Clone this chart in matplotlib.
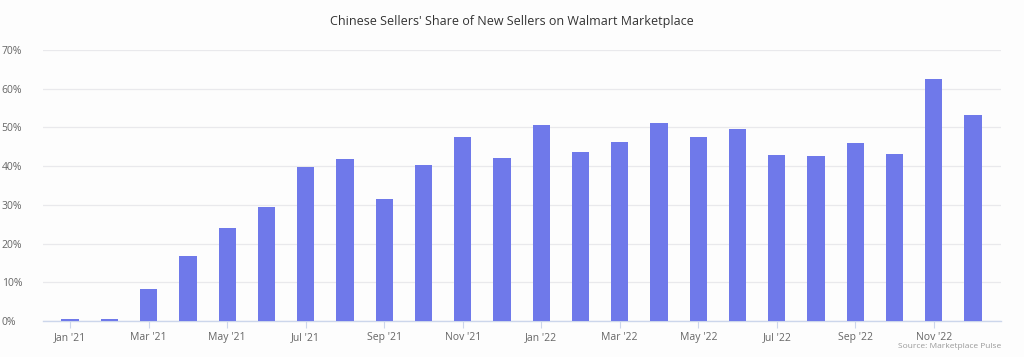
import matplotlib
matplotlib.use("Agg")
import matplotlib.pyplot as plt
from matplotlib.ticker import FuncFormatter

months = ["Jan '21", "Feb '21", "Mar '21", "Apr '21", "May '21", "Jun '21",
          "Jul '21", "Aug '21", "Sep '21", "Oct '21", "Nov '21", "Dec '21",
          "Jan '22", "Feb '22", "Mar '22", "Apr '22", "May '22", "Jun '22",
          "Jul '22", "Aug '22", "Sep '22", "Oct '22", "Nov '22", "Dec '22"]
share = [0.5, 0.5, 8.2, 16.8, 24.1, 29.5,
         39.9, 41.9, 31.4, 40.3, 47.4, 42.1,
         50.5, 43.6, 46.3, 51.1, 47.6, 49.6,
         43.0, 42.5, 46.0, 43.2, 62.4, 53.1]
y_ticks = [0, 10, 20, 30, 40, 50, 60, 70]

BAR = "#6f79ea"
BG = "#fdfdfd"
GRID = "#e9e9ec"
TICK = "#666666"

plt.rcParams["font.family"] = ["Open Sans", "DejaVu Sans"]

fig = plt.figure(figsize=(10.24, 3.57), dpi=100, facecolor=BG)
ax = fig.add_axes([0.042, 0.1008, 0.9355, 0.7592])
ax.set_facecolor(BG)

x = list(range(len(months)))
ax.bar(x, share, width=0.44, color=BAR, zorder=3)

ax.set_xlim(-0.69, len(months) - 0.29)
ax.set_ylim(0, 70)
ax.set_yticks(y_ticks)
ax.yaxis.set_major_formatter(FuncFormatter(lambda v, _: f"{v:.0f}%"))
ax.set_xticks(x[::2])
ax.set_xticklabels(months[::2])

ax.grid(axis="y", color=GRID, lw=0.9, zorder=0)
for side in ("top", "right", "left"):
    ax.spines[side].set_visible(False)
ax.spines["bottom"].set_color("#ccd6eb")
ax.spines["bottom"].set_linewidth(1)
ax.tick_params(axis="y", length=0, colors=TICK, labelsize=7.5, pad=6)
ax.tick_params(axis="x", length=5, color="#ccd6eb", colors=TICK,
               labelsize=7.5, pad=3)
for lbl in ax.get_yticklabels():
    lbl.set_horizontalalignment("left")
    lbl.set_x(-0.042 / 0.9355 + 0.0105)

fig.text(0.5, 0.94, "Chinese Sellers' Share of New Sellers on Walmart Marketplace",
         ha="center", va="center", fontsize=9, color="#333333")
fig.text(0.9775, 0.03, "Source: Marketplace Pulse", ha="right", va="center",
         fontsize=6, color="#999999")

fig.savefig("out.png", dpi=100, facecolor=BG)
